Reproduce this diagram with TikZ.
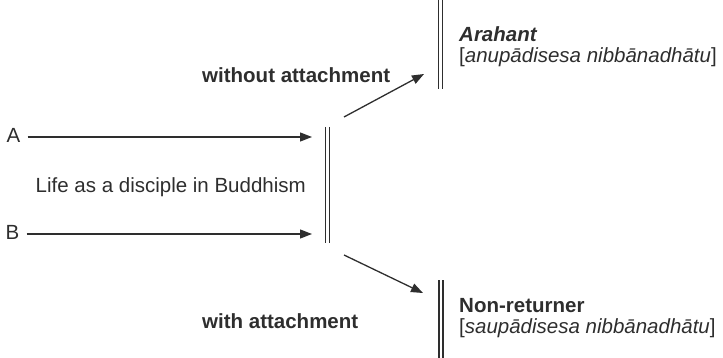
\documentclass[tikz,border=0pt]{standalone}
\usepackage{fontspec}
\setmainfont{Liberation Sans}
\usetikzlibrary{arrows.meta,calc}
\definecolor{ink}{rgb}{0.18,0.18,0.18}
\begin{document}
\begin{tikzpicture}[x=1pt,y=-1pt,
  lbl/.style={anchor=base west, inner sep=0pt, text=ink, font=\fontsize{20.5}{22}\selectfont},
  arr/.style={draw=ink, line width=1.3pt, -{Triangle[length=12pt,width=9pt]}},
  barbox/.style={minimum width=4pt, inner sep=0pt, outer sep=0pt, draw=none},
  barline/.style={draw=ink, line width=1.3pt}]
\useasboundingbox (0,0) rectangle (723,358);

% left labels
\node[lbl] (A) at (6.5,143) {A};
\node[lbl] (B) at (5.5,240) {B};
\node[lbl] (life) at (35.5,193) {Life as a disciple in Buddhism};

% bars
\node[barbox, minimum height=116pt] (midbar) at (327.5,185) {};
\node[barbox, minimum height=90pt] (topbar) at (440.5,44) {};
\node[barbox, minimum height=80pt] (botbar) at (441,320) {};
\foreach \b in {midbar,topbar,botbar}{
  \draw[barline] (\b.north west) -- (\b.south west);
  \draw[barline] (\b.north east) -- (\b.south east);
}

% arrows into the middle bar
\coordinate (Aend) at (312,137);
\coordinate (Bend) at (312,234);
\draw[arr] ($(A.east |- Aend)+(7,0)$) -- (Aend);
\draw[arr] ($(B.east |- Bend)+(7,0)$) -- (Bend);

% branching arrows
\coordinate (upstart) at (344,117);
\coordinate (upend) at (424,74);
\coordinate (dnstart) at (344,255);
\coordinate (dnend) at (423,293);
\draw[arr] (upstart) -- (upend);
\draw[arr] (dnstart) -- (dnend);

% branch labels
\node[lbl, font=\fontsize{20.5}{22}\selectfont\bfseries] (wo) at (202,83) {without attachment};
\node[lbl, font=\fontsize{20.5}{22}\selectfont\bfseries] (wi) at (202,328) {with attachment};

% outcomes
\node[lbl, font=\fontsize{20.5}{22}\selectfont\bfseries\itshape] (arahant) at (459,42) {Arahant};
\node[lbl] (anu) at (459,63) {[\textit{anupādisesa nibbānadhātu}]};
\node[lbl, font=\fontsize{20.5}{22}\selectfont\bfseries] (nonret) at (459,312) {Non-returner};
\node[lbl] (sau) at (459,333) {[\textit{saupādisesa nibbānadhātu}]};
\end{tikzpicture}
\end{document}
